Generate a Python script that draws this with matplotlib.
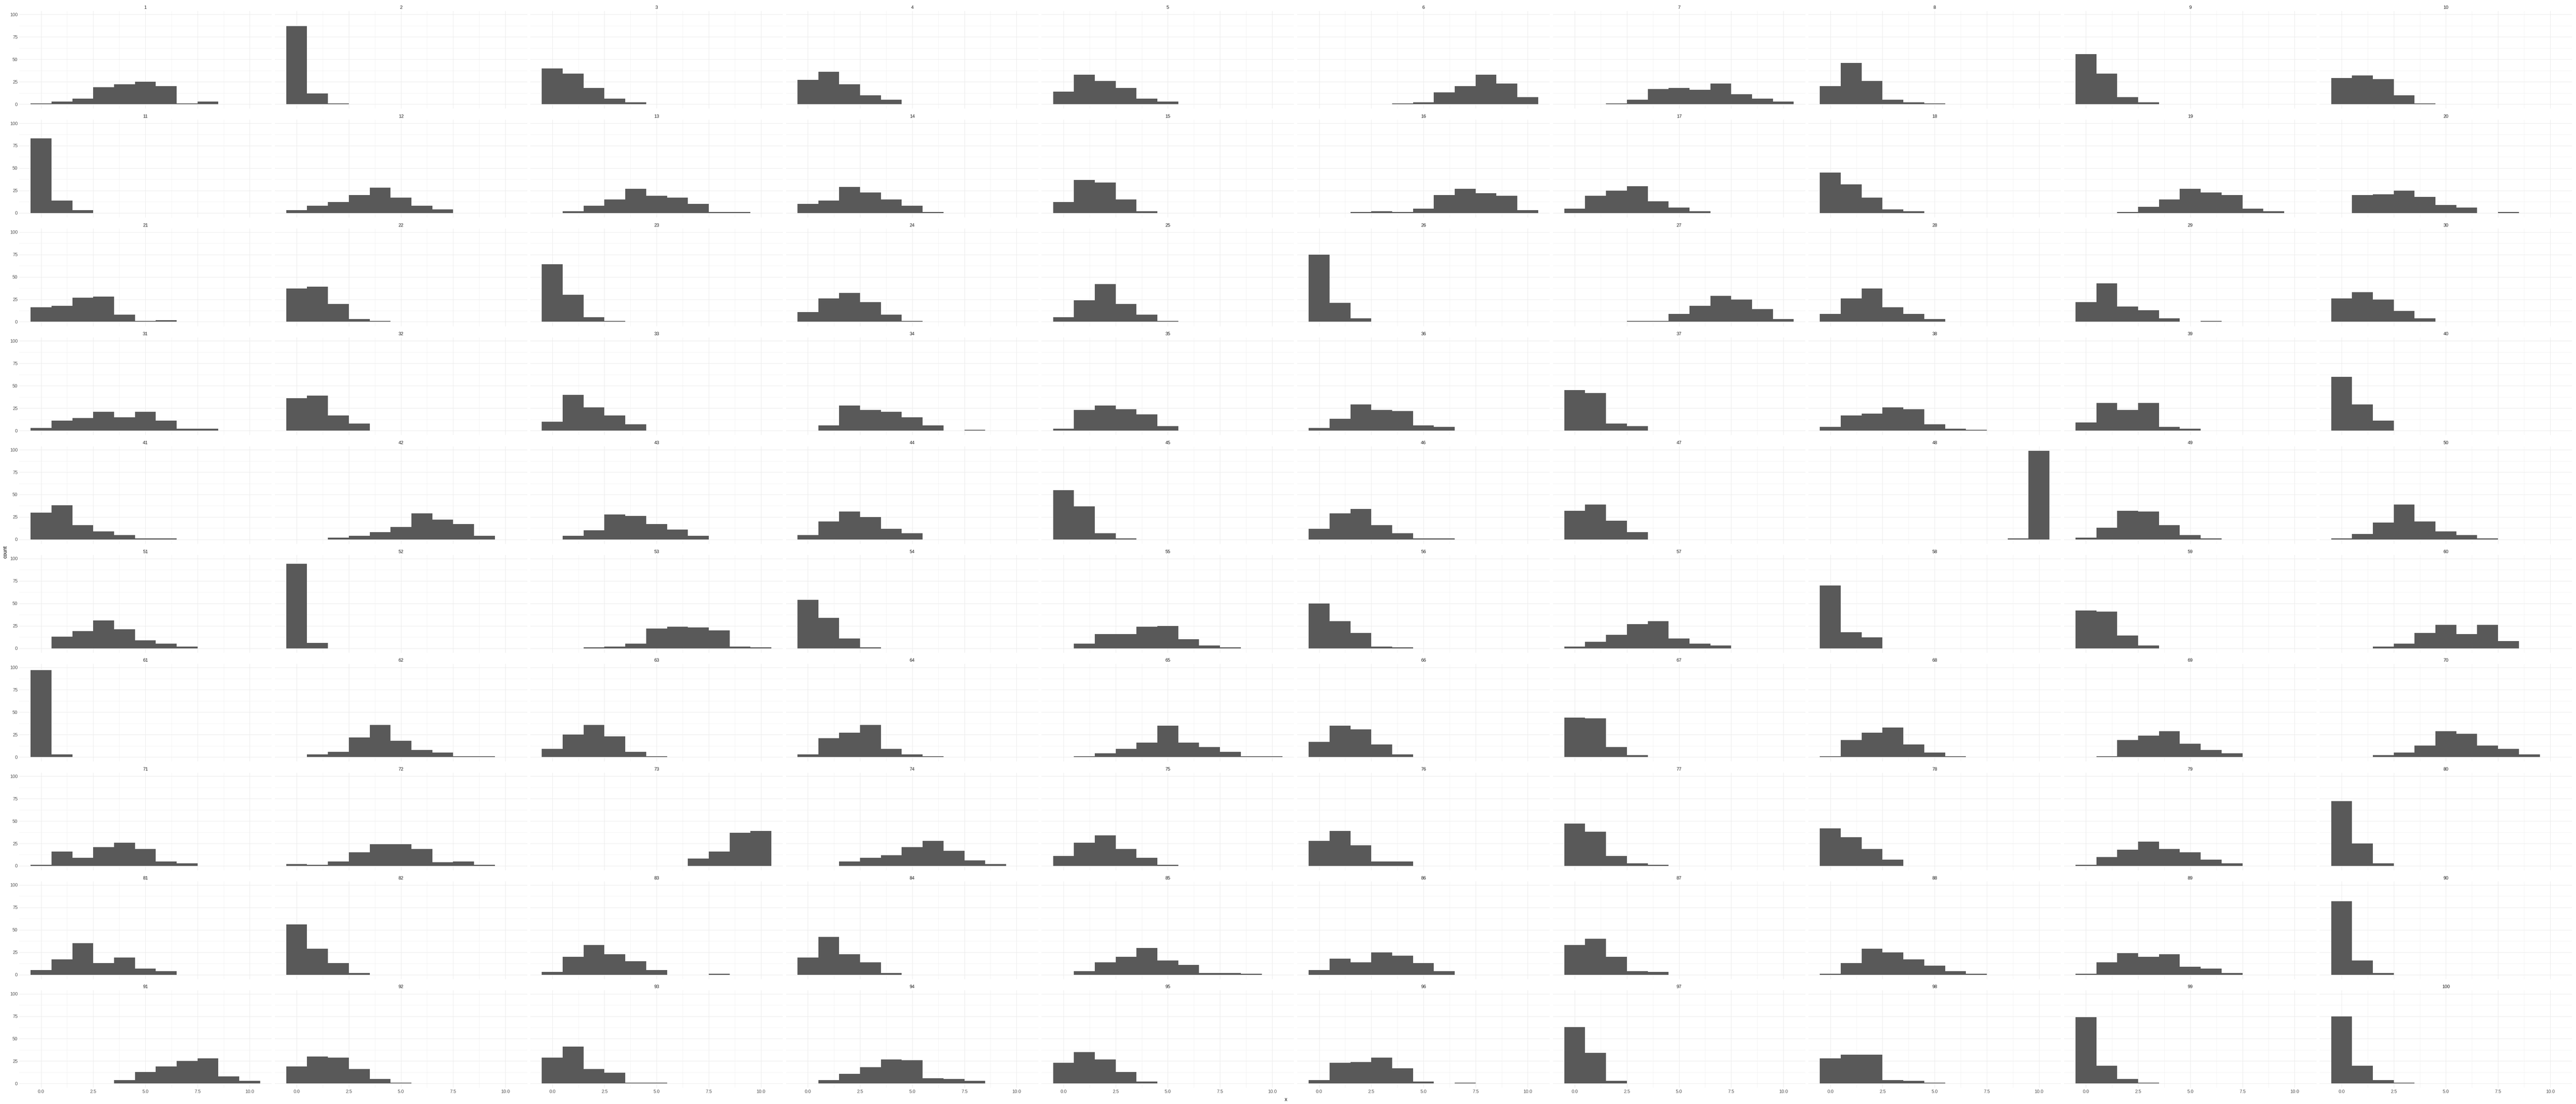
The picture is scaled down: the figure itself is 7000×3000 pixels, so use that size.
import numpy as np
import matplotlib
matplotlib.use("Agg")
import matplotlib.pyplot as plt

plt.rcParams['font.family'] = ['Liberation Sans', 'DejaVu Sans']

# valores posibles (0..10) y recuento por panel
values = list(range(11))

counts = [
    [1, 3, 6, 19, 22, 25, 20, 1, 3, 0, 0],
    [87, 12, 1, 0, 0, 0, 0, 0, 0, 0, 0],
    [40, 34, 18, 6, 2, 0, 0, 0, 0, 0, 0],
    [27, 36, 22, 10, 5, 0, 0, 0, 0, 0, 0],
    [14, 33, 26, 18, 6, 3, 0, 0, 0, 0, 0],
    [0, 0, 0, 0, 1, 2, 13, 20, 33, 23, 8],
    [0, 0, 1, 5, 17, 18, 16, 23, 11, 6, 3],
    [20, 46, 26, 5, 2, 1, 0, 0, 0, 0, 0],
    [56, 34, 8, 2, 0, 0, 0, 0, 0, 0, 0],
    [29, 32, 28, 10, 1, 0, 0, 0, 0, 0, 0],
    [83, 14, 3, 0, 0, 0, 0, 0, 0, 0, 0],
    [3, 8, 12, 20, 28, 17, 8, 4, 0, 0, 0],
    [0, 2, 8, 15, 27, 19, 17, 10, 1, 1, 0],
    [10, 14, 29, 23, 15, 8, 1, 0, 0, 0, 0],
    [12, 37, 34, 15, 2, 0, 0, 0, 0, 0, 0],
    [0, 0, 1, 2, 1, 5, 20, 27, 22, 19, 3],
    [5, 19, 25, 30, 13, 6, 2, 0, 0, 0, 0],
    [45, 32, 17, 4, 2, 0, 0, 0, 0, 0, 0],
    [0, 0, 1, 7, 15, 27, 23, 20, 5, 2, 0],
    [0, 20, 21, 25, 18, 9, 6, 0, 1, 0, 0],
    [16, 18, 27, 28, 8, 1, 2, 0, 0, 0, 0],
    [37, 39, 20, 3, 1, 0, 0, 0, 0, 0, 0],
    [64, 30, 5, 1, 0, 0, 0, 0, 0, 0, 0],
    [11, 26, 32, 22, 8, 1, 0, 0, 0, 0, 0],
    [5, 24, 42, 20, 8, 1, 0, 0, 0, 0, 0],
    [75, 21, 4, 0, 0, 0, 0, 0, 0, 0, 0],
    [0, 0, 0, 1, 1, 9, 18, 29, 25, 14, 3],
    [9, 26, 37, 16, 9, 3, 0, 0, 0, 0, 0],
    [22, 43, 17, 13, 4, 0, 1, 0, 0, 0, 0],
    [26, 33, 25, 12, 4, 0, 0, 0, 0, 0, 0],
    [3, 11, 14, 21, 15, 21, 11, 2, 2, 0, 0],
    [36, 39, 17, 8, 0, 0, 0, 0, 0, 0, 0],
    [10, 40, 26, 17, 7, 0, 0, 0, 0, 0, 0],
    [0, 6, 28, 23, 21, 15, 6, 0, 1, 0, 0],
    [2, 23, 28, 24, 18, 5, 0, 0, 0, 0, 0],
    [3, 13, 29, 23, 22, 6, 4, 0, 0, 0, 0],
    [45, 42, 8, 5, 0, 0, 0, 0, 0, 0, 0],
    [4, 17, 19, 26, 24, 7, 2, 1, 0, 0, 0],
    [9, 31, 23, 31, 4, 2, 0, 0, 0, 0, 0],
    [60, 29, 11, 0, 0, 0, 0, 0, 0, 0, 0],
    [30, 38, 16, 9, 5, 1, 1, 0, 0, 0, 0],
    [0, 0, 2, 4, 8, 14, 29, 22, 17, 4, 0],
    [0, 4, 10, 28, 26, 17, 11, 4, 0, 0, 0],
    [5, 20, 31, 25, 12, 7, 0, 0, 0, 0, 0],
    [55, 37, 7, 1, 0, 0, 0, 0, 0, 0, 0],
    [12, 29, 34, 16, 7, 1, 1, 0, 0, 0, 0],
    [32, 39, 21, 8, 0, 0, 0, 0, 0, 0, 0],
    [0, 0, 0, 0, 0, 0, 0, 0, 0, 1, 99],
    [2, 13, 32, 31, 16, 5, 1, 0, 0, 0, 0],
    [1, 6, 19, 39, 20, 9, 5, 1, 0, 0, 0],
    [0, 13, 19, 31, 21, 9, 5, 2, 0, 0, 0],
    [94, 6, 0, 0, 0, 0, 0, 0, 0, 0, 0],
    [0, 0, 1, 2, 5, 22, 24, 23, 20, 2, 1],
    [54, 34, 11, 1, 0, 0, 0, 0, 0, 0, 0],
    [0, 5, 16, 16, 24, 25, 10, 3, 1, 0, 0],
    [50, 30, 17, 2, 1, 0, 0, 0, 0, 0, 0],
    [2, 7, 15, 27, 30, 11, 5, 3, 0, 0, 0],
    [70, 18, 12, 0, 0, 0, 0, 0, 0, 0, 0],
    [42, 41, 14, 3, 0, 0, 0, 0, 0, 0, 0],
    [0, 0, 2, 5, 17, 26, 16, 26, 8, 0, 0],
    [97, 3, 0, 0, 0, 0, 0, 0, 0, 0, 0],
    [0, 3, 6, 22, 36, 18, 8, 5, 1, 1, 0],
    [9, 25, 36, 23, 6, 1, 0, 0, 0, 0, 0],
    [3, 21, 27, 36, 9, 3, 1, 0, 0, 0, 0],
    [0, 1, 4, 9, 16, 35, 16, 11, 6, 1, 1],
    [17, 35, 31, 14, 3, 0, 0, 0, 0, 0, 0],
    [44, 43, 11, 2, 0, 0, 0, 0, 0, 0, 0],
    [1, 19, 27, 33, 14, 5, 1, 0, 0, 0, 0],
    [0, 1, 19, 24, 29, 15, 8, 4, 0, 0, 0],
    [0, 0, 2, 5, 13, 29, 26, 13, 9, 3, 0],
    [1, 16, 9, 21, 26, 19, 5, 3, 0, 0, 0],
    [2, 1, 5, 15, 24, 24, 19, 4, 5, 1, 0],
    [0, 0, 0, 0, 0, 0, 0, 8, 16, 37, 39],
    [0, 0, 5, 9, 12, 21, 28, 17, 6, 2, 0],
    [11, 26, 34, 19, 9, 1, 0, 0, 0, 0, 0],
    [28, 39, 23, 5, 5, 0, 0, 0, 0, 0, 0],
    [47, 38, 11, 3, 1, 0, 0, 0, 0, 0, 0],
    [42, 32, 19, 7, 0, 0, 0, 0, 0, 0, 0],
    [1, 10, 18, 27, 19, 15, 7, 3, 0, 0, 0],
    [72, 25, 3, 0, 0, 0, 0, 0, 0, 0, 0],
    [5, 17, 35, 13, 19, 7, 4, 0, 0, 0, 0],
    [56, 29, 13, 2, 0, 0, 0, 0, 0, 0, 0],
    [3, 20, 33, 23, 15, 5, 0, 0, 1, 0, 0],
    [19, 42, 23, 14, 2, 0, 0, 0, 0, 0, 0],
    [0, 4, 14, 20, 30, 16, 11, 2, 2, 1, 0],
    [5, 18, 14, 25, 21, 13, 4, 0, 0, 0, 0],
    [33, 40, 20, 4, 3, 0, 0, 0, 0, 0, 0],
    [1, 13, 29, 25, 17, 10, 4, 1, 0, 0, 0],
    [1, 14, 24, 20, 23, 9, 7, 2, 0, 0, 0],
    [82, 16, 2, 0, 0, 0, 0, 0, 0, 0, 0],
    [0, 0, 0, 0, 4, 13, 19, 25, 28, 8, 3],
    [19, 30, 29, 16, 5, 1, 0, 0, 0, 0, 0],
    [29, 41, 16, 12, 1, 1, 0, 0, 0, 0, 0],
    [0, 4, 11, 18, 27, 26, 6, 5, 3, 0, 0],
    [23, 35, 27, 13, 2, 0, 0, 0, 0, 0, 0],
    [4, 23, 24, 29, 17, 2, 0, 1, 0, 0, 0],
    [63, 34, 3, 0, 0, 0, 0, 0, 0, 0, 0],
    [28, 32, 32, 4, 3, 1, 0, 0, 0, 0, 0],
    [74, 20, 5, 1, 0, 0, 0, 0, 0, 0, 0],
    [75, 20, 4, 1, 0, 0, 0, 0, 0, 0, 0],
]

panel_labels = [str(i + 1) for i in range(len(counts))]
x_ticks = [0, 2.5, 5, 7.5, 10]
x_ticklabels = ["0.0", "2.5", "5.0", "7.5", "10.0"]
x_minor = [1.25, 3.75, 6.25, 8.75]
y_ticks = [0, 25, 50, 75, 100]
y_minor = [12.5, 37.5, 62.5, 87.5]

ncol, nrow = 10, 10
W, H = 7000, 3000
fig = plt.figure(figsize=(W / 100, H / 100), dpi=100)
fig.patch.set_facecolor("white")

left0 = 52
pw = 686
pitch_x = 694.6
top0 = 29.7
ph = 265.4
pitch_y = 295.7

grid_col = "#EBEBEB"
bar_col = "#595959"

for k, c in enumerate(counts):
    r, col = divmod(k, ncol)
    x0 = left0 + col * pitch_x
    ytop = top0 + r * pitch_y
    ax = fig.add_axes([x0 / W, 1 - (ytop + ph) / H, pw / W, ph / H])
    ax.set_facecolor("white")
    ax.bar(values, c, width=1.0, color=bar_col, linewidth=0, zorder=3)
    ax.set_xlim(-1.05, 11.05)
    ax.set_ylim(-4.95, 103.95)

    for v in x_ticks:
        ax.axvline(v, color=grid_col, lw=0.9, zorder=1)
    for v in x_minor:
        ax.axvline(v, color=grid_col, lw=0.45, zorder=1)
    for v in y_ticks:
        ax.axhline(v, color=grid_col, lw=0.9, zorder=1)
    for v in y_minor:
        ax.axhline(v, color=grid_col, lw=0.45, zorder=1)

    for s in ax.spines.values():
        s.set_visible(False)
    ax.tick_params(length=0, labelsize=9, colors="#4D4D4D", pad=3)

    ax.set_xticks(x_ticks)
    if r == nrow - 1:
        ax.set_xticklabels(x_ticklabels)
    else:
        ax.set_xticklabels([])
    ax.set_yticks(y_ticks)
    if col == 0:
        ax.set_yticklabels([str(v) for v in y_ticks])
    else:
        ax.set_yticklabels([])

    ax.set_title(panel_labels[k], fontsize=9, color="#1A1A1A", pad=4)

fig.text(14 / W, 0.5, "count", rotation=90, ha="center", va="center",
         fontsize=10, color="#000000")
fig.text((left0 + (9 * pitch_x + pw)) / 2 / W, 1 - 2988 / H, "x",
         ha="center", va="center", fontsize=10, color="#000000")

plt.savefig("out.png", dpi=100, facecolor="white")
